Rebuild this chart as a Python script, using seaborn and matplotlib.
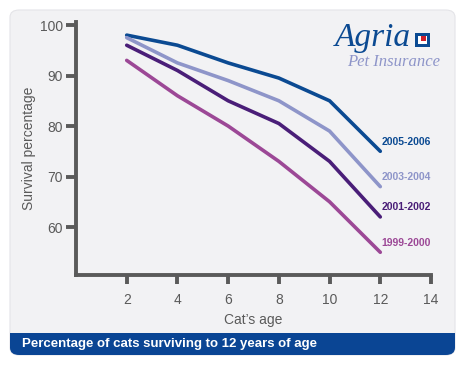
import numpy as np
import pandas as pd
import matplotlib
matplotlib.use("Agg")
import matplotlib.pyplot as plt
import seaborn as sns
from matplotlib.patches import FancyBboxPatch, Rectangle

ages = [2, 4, 6, 8, 10, 12]
s2005 = [98, 96, 92.5, 89.5, 85, 75]
s2003 = [97.5, 92.5, 89, 85, 79, 68]
s2001 = [96, 91, 85, 80.5, 73, 62]
s1999 = [93, 86, 80, 73, 65, 55]
series_names = ["2005-2006", "2003-2004", "2001-2002", "1999-2000"]
series_vals = [s2005, s2003, s2001, s1999]
colors = ["#0b4a92", "#8e95c9", "#4a1e78", "#9c4896"]
xticks = [2, 4, 6, 8, 10, 12, 14]
yticks = [60, 70, 80, 90, 100]

df = pd.DataFrame({
    "age": ages * len(series_names),
    "pct": sum(series_vals, []),
    "period": sum([[n] * len(ages) for n in series_names], []),
})

sns.set_theme(style="white")
plt.rcParams["font.family"] = ["Liberation Sans", "DejaVu Sans"]

W, H = 460, 365
fig = plt.figure(figsize=(W / 100, H / 100), dpi=100)
fig.patch.set_facecolor("white")

# card background
card = FancyBboxPatch((10 / W, 10 / H), 445 / W, 345 / H,
                      boxstyle="round,pad=0,rounding_size=0.02",
                      transform=fig.transFigure, facecolor="#f2f2f4",
                      edgecolor="#e4e4e8", linewidth=0.8, zorder=-3)
fig.patches.append(card)
band = FancyBboxPatch((10 / W, 10 / H), 445 / W, 22 / H,
                      boxstyle="round,pad=0,rounding_size=0.02",
                      transform=fig.transFigure, facecolor="#0a4594",
                      edgecolor="none", zorder=-2)
fig.patches.append(band)
band2 = Rectangle((10 / W, 22 / H), 445 / W, 10 / H, transform=fig.transFigure,
                  facecolor="#0a4594", edgecolor="none", zorder=-2)
fig.patches.append(band2)
fig.text(22 / W, 21 / H, "Percentage of cats surviving to 12 years of age",
         color="white", fontsize=9.5, fontweight="bold", va="center", ha="left")

ax = fig.add_axes([76 / W, 90 / H, 355 / W, 253 / H])
ax.set_zorder(1)
ax.set_facecolor("none")
ax.patch.set_alpha(0)
sns.lineplot(data=df, x="age", y="pct", hue="period", palette=colors,
             hue_order=series_names, linewidth=2.6, legend=False, ax=ax)
ax.set_xlim(0, 14)
ax.set_ylim(50.5, 100.6)
ax.set_xticks(xticks)
ax.set_yticks(yticks)
gray = "#5a5a5a"
for side in ["top", "right"]:
    ax.spines[side].set_visible(False)
for side in ["left", "bottom"]:
    ax.spines[side].set_color(gray)
    ax.spines[side].set_linewidth(2.8)
ax.tick_params(axis="both", bottom=True, left=True, direction="out", width=2.8,
               color=gray, labelcolor=gray, labelsize=10)
ax.tick_params(axis="y", length=7.5, pad=2)
ax.tick_params(axis="x", length=6.5, pad=6.5)
ax.set_xlabel("Cat\u2019s age", color=gray, fontsize=10, labelpad=4)
ax.set_ylabel("Survival percentage", color=gray, fontsize=10, labelpad=3)

# end labels
for name, vals, c in zip(series_names, series_vals, colors):
    ax.text(12.05, vals[-1] + 1.9, name, color=c, fontsize=7.5, fontweight="bold",
            ha="left", va="center")

# logo
fig.text(335 / W, 1 - 46 / H, "Agria", family=["Liberation Serif", "DejaVu Serif"],
         style="italic", fontsize=24, color="#0b4a92", ha="left", va="baseline",
         zorder=3)
fig.patches.append(Rectangle((415 / W, 1 - 47 / H), 15 / W, 14 / H,
                             transform=fig.transFigure, facecolor="#0b4a92",
                             edgecolor="none", zorder=3))
fig.patches.append(Rectangle((418 / W, 1 - 44 / H), 9 / W, 8 / H,
                             transform=fig.transFigure, facecolor="white",
                             edgecolor="none", zorder=4))
fig.patches.append(Rectangle((421 / W, 1 - 41 / H), 5 / W, 5 / H,
                             transform=fig.transFigure, facecolor="#d0202a",
                             edgecolor="none", zorder=5))
fig.text(347 / W, 1 - 66 / H, "Pet Insurance", family=["Liberation Serif", "DejaVu Serif"],
         style="italic", fontsize=12, color="#8e95c9", ha="left", va="baseline",
         zorder=3)

fig.savefig("out.png", dpi=100, facecolor="white")
